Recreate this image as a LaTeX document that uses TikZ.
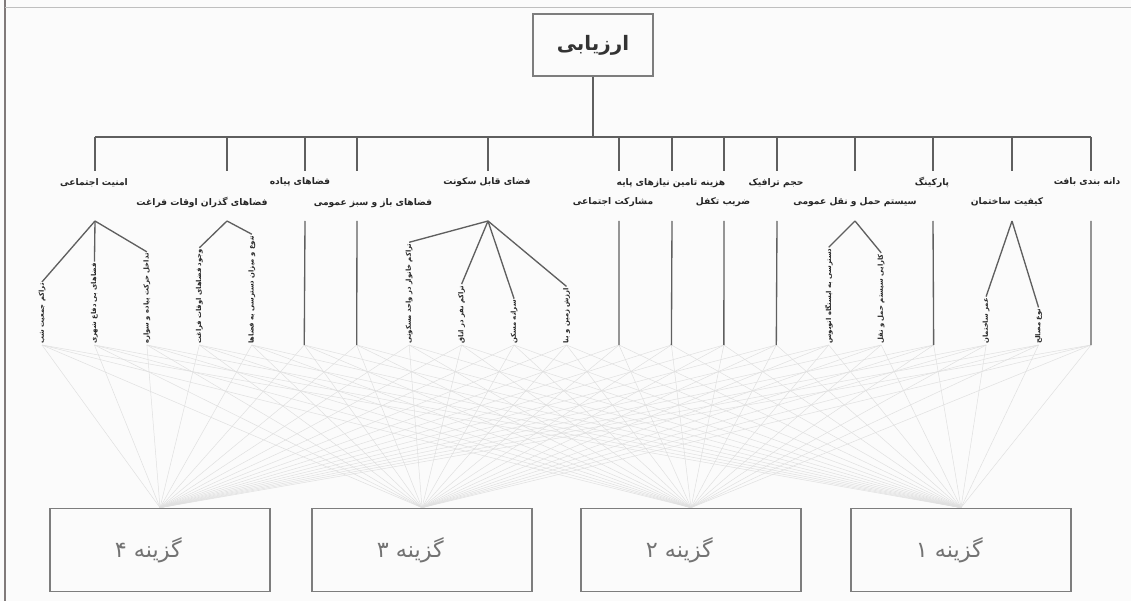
\documentclass[tikz,border=0pt]{standalone}
\usepackage{fontspec}
\newfontfamily\fa[Script=Arabic]{DejaVu Sans}
\TeXXeTstate=1
\usetikzlibrary{calc}
\definecolor{framegray}{RGB}{128,122,122}
\definecolor{linegray}{RGB}{95,95,95}
\definecolor{boxgray}{RGB}{125,125,125}
\definecolor{wiregray}{RGB}{224,224,224}
\definecolor{paper}{RGB}{251,251,251}
\newcommand{\fatext}[1]{\beginR #1\endR}
\newcommand{\alttext}[1]{\hbox{\beginR #1\endR}\kern.7cm}

\begin{document}
\begin{tikzpicture}[x=.03cm, y=-.03cm]
\tikzstyle{crit} = [inner sep=1pt, text=black!85, font=\fa\fontsize{7.8}{9}\selectfont\bfseries]
\tikzstyle{sub} = [rotate=90, anchor=west, inner sep=1pt, text=black!85, font=\fa\fontsize{5.8}{6}\selectfont\bfseries]
\tikzstyle{alt} = [rectangle, draw=boxgray, line width=.4mm, minimum width=6.6cm, minimum height=2.5cm, text=black!55, font=\fa\fontsize{19}{22}\selectfont]
\tikzstyle{stem} = [draw=linegray, line width=.4mm]
\tikzstyle{wire} = [draw=wiregray, line width=.15mm]

\useasboundingbox (0,0) rectangle (1131,601);
\fill[paper] (0,0) rectangle (1131,601);
\draw[framegray, line width=.6mm] (5,0) -- (5,601);
\draw[black!25] (5,7) -- (1131,7);

\node (root) [rectangle, draw=boxgray, line width=.4mm, minimum width=3.6cm, minimum height=1.86cm, text=black!80, font=\fa\fontsize{17}{20}\selectfont\bfseries] at (593,45) {\fatext{ارزیابی}};

% alternatives
\node (g4) [alt] at (160,550) {\alttext{گزینه ۴}};
\node (g3) [alt] at (422,550) {\alttext{گزینه ۳}};
\node (g2) [alt] at (691,550) {\alttext{گزینه ۲}};
\node (g1) [alt] at (961,550) {\alttext{گزینه ۱}};

% leaf ends
\foreach \k in {1,...,21}
  \coordinate (e\k) at ({42+52.45*(\k-1)},345);

\foreach \k in {1,...,21}
  \foreach \j in {1,...,4}
    \draw[wire] (e\k) -- (g\j.north);

% criteria
\foreach \i/\x/\lx/\ly/\txt in {1/95/94/183/{امنیت اجتماعی}, 2/227/202/202/{فضاهای گذران اوقات فراغت}, 3/305/300/182/{فضاهای پیاده}, 4/357/373/203/{فضاهای باز و سبز عمومی}, 5/488/487/182/{فضای قابل سکونت}, 6/619/613/202/{مشارکت اجتماعی}, 7/672/671/183/{هزینه تامین نیازهای پایه}, 8/724/723/202/{ضریب تکفل}, 9/777/776/183/{حجم ترافیک}, 10/855/855/202/{سیستم حمل و نقل عمومی}, 11/933/932/182/{پارکینگ}, 12/1012/1007/202/{کیفیت ساختمان}, 13/1091/1087/182/{دانه بندی بافت}} {
  \coordinate (t\i) at (\x,137);
  \coordinate (d\i) at (\x,171);
  \coordinate (a\i) at (\x,221);
  \node (c\i) [crit] at (\lx,\ly) {\fatext{\txt}};
  \draw[stem] (t\i) -- (d\i);
}
\draw[stem] (root) -- ($(t1)!(root.south)!(t13)$);
\draw[stem] (t1) -- (t13);

% criteria with no sub-criteria
\foreach \i/\k in {3/6, 4/7, 6/12, 7/13, 8/14, 9/15, 11/18, 13/21}
  \draw[stem] (a\i) -- (e\k);

% sub-criteria
\node (s1) [sub] at (e1) {\fatext{تراکم جمعیت شب}};
\node (s2) [sub] at (e2) {\fatext{فضاهای بی دفاع شهری}};
\node (s3) [sub] at (e3) {\fatext{تداخل حرکت پیاده و سواره}};
\node (s4) [sub] at (e4) {\fatext{وجود فضاهای اوقات فراغت}};
\node (s5) [sub] at (e5) {\fatext{تنوع و میزان دسترسی به فضاها}};
\node (s8) [sub] at (e8) {\fatext{تراکم خانوار در واحد مسکونی}};
\node (s9) [sub] at (e9) {\fatext{تراکم نفر در اتاق}};
\node (s10) [sub] at (e10) {\fatext{سرانه مسکن}};
\node (s11) [sub] at (e11) {\fatext{ارزش زمین و بنا}};
\node (s16) [sub] at (e16) {\fatext{دسترسی به ایستگاه اتوبوس}};
\node (s17) [sub] at (e17) {\fatext{کارایی سیستم حمل و نقل}};
\node (s19) [sub] at (e19) {\fatext{عمر ساختمان}};
\node (s20) [sub] at (e20) {\fatext{نوع مصالح}};

\foreach \k in {1,2,3} \draw[stem] (a1) -- (s\k.east);
\foreach \k in {4,5} \draw[stem] (a2) -- (s\k.east);
\foreach \k in {8,9,10,11} \draw[stem] (a5) -- (s\k.east);
\foreach \k in {16,17} \draw[stem] (a10) -- (s\k.east);
\foreach \k in {19,20} \draw[stem] (a12) -- (s\k.east);

\end{tikzpicture}
\end{document}
